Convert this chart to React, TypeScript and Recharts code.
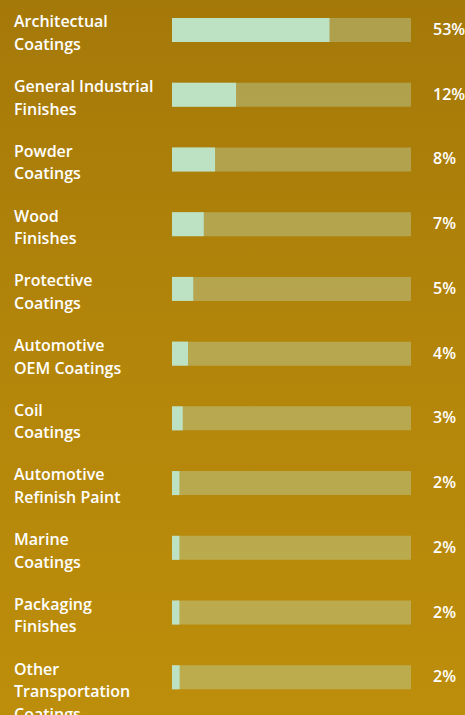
import { Bar, BarChart, LabelList, XAxis, YAxis } from 'recharts'

// categories, top to bottom ("|" = line break in the label)
const segments = [
    'Architectual|Coatings',
    'General Industrial|Finishes',
    'Powder|Coatings',
    'Wood|Finishes',
    'Protective|Coatings',
    'Automotive|OEM Coatings',
    'Coil|Coatings',
    'Automotive|Refinish Paint',
    'Marine|Coatings',
    'Packaging|Finishes',
    'Other|Transportation|Coatings',
]

// market share printed next to each bar
const shares = [53, 12, 8, 7, 5, 4, 3, 2, 2, 2, 2]

// how far the mint fill runs along its track (% of track), as drawn
const barLength = [65.9, 26.8, 18, 13.3, 8.9, 6.7, 4.5, 3.1, 3.1, 3.1, 3.2]

const data = segments.map((name, i) => ({ name, share: shares[i], length: barLength[i] }))

const FONT = '"Open Sans", Lato, sans-serif'
const MINT = '#BDE1C3'

const NameTick = ({ y, payload }: any) => {
    const lines = String(payload.value).split('|')
    return (
        <text x={14} y={y - 3} fill="#fff" fontFamily={FONT} fontSize={16} fontWeight={600}>
            {lines.map((l, i) => (
                <tspan key={i} x={14} dy={i === 0 ? 0 : 22.5}>{l}</tspan>
            ))}
        </text>
    )
}

const renderPct = (props: any) => {
    const { y, height, value } = props
    return (
        <text
            x={433}
            y={y + height / 2}
            dy={5}
            fill="#fff"
            fontFamily={FONT}
            fontSize={16}
            fontWeight={600}
        >
            {value}%
        </text>
    )
}

export default function App() {
    return (
        <div
            style={{
                position: 'absolute',
                left: 0,
                top: 0,
                width: 465,
                height: 715,
                background: 'linear-gradient(180deg, #A57909 0%, #B3850A 50%, #BD8E0B 100%)',
            }}
        >
            <BarChart
                width={465}
                height={715}
                data={data}
                layout="vertical"
                margin={{ top: -2, right: 54, bottom: 5, left: 0 }}
            >
                <XAxis type="number" domain={[0, 100]} hide />
                <YAxis
                    type="category"
                    dataKey="name"
                    width={172}
                    tickLine={false}
                    axisLine={false}
                    tick={<NameTick />}
                    interval={0}
                />
                <Bar
                    dataKey="length"
                    fill={MINT}
                    barSize={24}
                    background={{ fill: 'rgba(189, 225, 195, 0.37)' }}
                    isAnimationActive={false}
                >
                    <LabelList dataKey="share" content={renderPct} />
                </Bar>
            </BarChart>
        </div>
    )
}
